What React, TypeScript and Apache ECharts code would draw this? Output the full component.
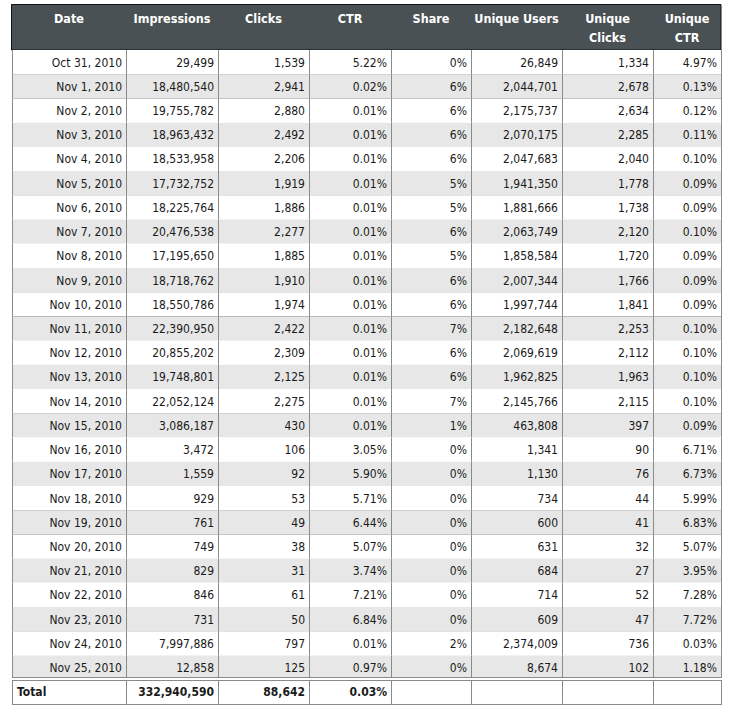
import React, { useEffect, useRef } from "react";
import * as echarts from "echarts";

const headers = ["Date", "Impressions", "Clicks", "CTR", "Share", "Unique Users", "Unique\nClicks", "Unique\nCTR"];
const dates = [
  "Oct 31, 2010", "Nov 1, 2010", "Nov 2, 2010", "Nov 3, 2010", "Nov 4, 2010", "Nov 5, 2010",
  "Nov 6, 2010", "Nov 7, 2010", "Nov 8, 2010", "Nov 9, 2010", "Nov 10, 2010", "Nov 11, 2010",
  "Nov 12, 2010", "Nov 13, 2010", "Nov 14, 2010", "Nov 15, 2010", "Nov 16, 2010", "Nov 17, 2010",
  "Nov 18, 2010", "Nov 19, 2010", "Nov 20, 2010", "Nov 21, 2010", "Nov 22, 2010", "Nov 23, 2010",
  "Nov 24, 2010", "Nov 25, 2010",
];
const impressions = [
  29499, 18480540, 19755782, 18963432, 18533958, 17732752, 18225764, 20476538, 17195650, 18718762,
  18550786, 22390950, 20855202, 19748801, 22052124, 3086187, 3472, 1559, 929, 761, 749, 829, 846,
  731, 7997886, 12858,
];
const clicks = [
  1539, 2941, 2880, 2492, 2206, 1919, 1886, 2277, 1885, 1910, 1974, 2422, 2309, 2125, 2275, 430,
  106, 92, 53, 49, 38, 31, 61, 50, 797, 125,
];
const ctr = [
  5.22, 0.02, 0.01, 0.01, 0.01, 0.01, 0.01, 0.01, 0.01, 0.01, 0.01, 0.01, 0.01, 0.01, 0.01, 0.01,
  3.05, 5.9, 5.71, 6.44, 5.07, 3.74, 7.21, 6.84, 0.01, 0.97,
];
const share = [0, 6, 6, 6, 6, 5, 5, 6, 5, 6, 6, 7, 6, 6, 7, 1, 0, 0, 0, 0, 0, 0, 0, 0, 2, 0];
const uniqueUsers = [
  26849, 2044701, 2175737, 2070175, 2047683, 1941350, 1881666, 2063749, 1858584, 2007344, 1997744,
  2182648, 2069619, 1962825, 2145766, 463808, 1341, 1130, 734, 600, 631, 684, 714, 609, 2374009, 8674,
];
const uniqueClicks = [
  1334, 2678, 2634, 2285, 2040, 1778, 1738, 2120, 1720, 1766, 1841, 2253, 2112, 1963, 2115, 397, 90,
  76, 44, 41, 32, 27, 52, 47, 736, 102,
];
const uniqueCtr = [
  4.97, 0.13, 0.12, 0.11, 0.1, 0.09, 0.09, 0.1, 0.09, 0.09, 0.09, 0.1, 0.1, 0.1, 0.1, 0.09, 6.71,
  6.73, 5.99, 6.83, 5.07, 3.95, 7.28, 7.72, 0.03, 1.18,
];
const totalLabel = "Total";
const totalImpressions = 332940590;
const totalClicks = 88642;
const totalCtr = 0.03;

// layout (pixels)
const colWidths = [114, 92, 91, 82, 80, 91, 91, 68];
const LEFT = 12;
const HEADER_TOP = 4;
const BODY_TOP = 50;
const ROW_H = 24.22;
const FONT = "'DejaVu Sans Condensed', 'DejaVu Sans', sans-serif";

const fmtInt = (v: number) => v.toLocaleString("en-US");
const fmtPct = (v: number) => v.toFixed(2) + "%";

const rowTexts: string[][] = dates.map((d, i) => [
  d,
  fmtInt(impressions[i]),
  fmtInt(clicks[i]),
  fmtPct(ctr[i]),
  share[i] + "%",
  fmtInt(uniqueUsers[i]),
  fmtInt(uniqueClicks[i]),
  fmtPct(uniqueCtr[i]),
]);
const totalTexts = [totalLabel, fmtInt(totalImpressions), fmtInt(totalClicks), fmtPct(totalCtr), "", "", "", ""];
const allRows = [...rowTexts, totalTexts];

const edges: number[] = [0];
colWidths.forEach((w) => edges.push(edges[edges.length - 1] + w));
const TOTAL_W = edges[edges.length - 1];

export default function App() {
  const ref = useRef<HTMLDivElement>(null);
  useEffect(() => {
    if (!ref.current) return;
    const chart = echarts.init(ref.current, null, { renderer: "svg" });
    const nRows = allRows.length;
    const headerEls: any[] = [
      {
        type: "rect",
        shape: { x: LEFT - 0.5, y: HEADER_TOP + 0.5, width: TOTAL_W + 0.5, height: BODY_TOP - HEADER_TOP - 0.5 },
        style: { fill: "#4a5154", stroke: "#111", lineWidth: 1 },
      },
    ];
    headers.forEach((h, c) => {
      headerEls.push({
        type: "text",
        x: LEFT + (edges[c] + edges[c + 1]) / 2,
        y: 9,
        style: {
          text: h,
          font: `bold 12.5px ${FONT}`,
          fill: "#ffffff",
          align: "center",
          verticalAlign: "top",
          lineHeight: 19,
        },
      });
    });

    const renderItem = (params: any, api: any) => {
      const r = api.value(1);
      const isTotal = r === nRows - 1;
      const center = api.coord([0, r]);
      const h = api.size([0, 1])[1];
      const y0 = center[1] - h / 2;
      const x = (e: number) => api.coord([e, r])[0];
      const children: any[] = [];
      const bg = !isTotal && r % 2 === 1 ? "#e6e7e6" : "#ffffff";
      children.push({
        type: "rect",
        shape: { x: x(0), y: y0, width: x(TOTAL_W) - x(0), height: h },
        style: { fill: bg },
      });
      edges.forEach((e) => {
        const xx = Math.round(x(e)) + 0.5;
        children.push({
          type: "line",
          shape: { x1: xx, y1: y0, x2: xx, y2: y0 + h },
          style: { stroke: "#8a8a8a", lineWidth: 1 },
        });
      });
      const yb = Math.round(y0 + h) + 0.5;
      children.push({
        type: "line",
        shape: { x1: x(0), y1: yb, x2: x(TOTAL_W) + 1, y2: yb },
        style: { stroke: "#8a8a8a", lineWidth: 1 },
      });
      if (isTotal) {
        const yt = Math.round(y0) + 0.5;
        children.push({
          type: "rect",
          shape: { x: x(0), y: yt - 3, width: x(TOTAL_W) - x(0) + 1, height: 3 },
          style: { fill: "#ffffff" },
        });
        [yt - 3, yt].forEach((yy) =>
          children.push({
            type: "line",
            shape: { x1: x(0), y1: yy, x2: x(TOTAL_W) + 1, y2: yy },
            style: { stroke: "#8a8a8a", lineWidth: 1 },
          })
        );
      }
      const texts = allRows[r];
      texts.forEach((t, c) => {
        if (!t) return;
        const leftAlign = isTotal && c === 0;
        children.push({
          type: "text",
          style: {
            text: t,
            x: leftAlign ? x(edges[c]) + 5 : x(edges[c + 1]) - 4,
            y: center[1] + 0.5,
            align: leftAlign ? "left" : "right",
            verticalAlign: "middle",
            font: `${isTotal ? "bold " : ""}12px ${FONT}`,
            fill: "#1a1a1a",
          },
        });
      });
      return { type: "group", children };
    };

    chart.setOption({
      animation: false,
      grid: { left: LEFT, top: BODY_TOP, width: TOTAL_W, height: ROW_H * nRows },
      xAxis: { type: "value", min: 0, max: TOTAL_W, show: false },
      yAxis: { type: "category", data: [...dates, totalLabel], inverse: true, show: false },
      graphic: headerEls,
      series: [
        {
          type: "custom",
          renderItem,
          encode: { x: 0, y: 1 },
          data: allRows.map((_, i) => [0, i]),
        },
      ],
    });
    return () => chart.dispose();
  }, []);
  return <div ref={ref} style={{ width: 739, height: 710, position: "absolute", left: 0, top: 0 }} />;
}
